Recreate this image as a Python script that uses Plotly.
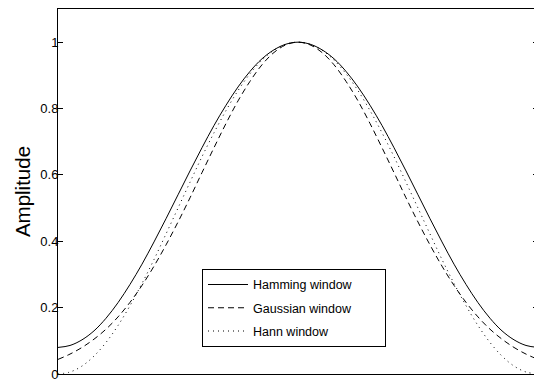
import plotly.graph_objects as go

# sample index (41 samples across the window)
n = list(range(41))

hamming = [0.080, 0.086, 0.103, 0.130, 0.168, 0.215, 0.270, 0.331, 0.398, 0.468,
           0.540, 0.612, 0.682, 0.749, 0.810, 0.865, 0.912, 0.950, 0.977, 0.994,
           1.000,
           0.994, 0.977, 0.950, 0.912, 0.865, 0.810, 0.749, 0.682, 0.612, 0.540,
           0.468, 0.398, 0.331, 0.270, 0.215, 0.168, 0.130, 0.103, 0.086, 0.080]

gaussian = [0.044, 0.060, 0.080, 0.105, 0.135, 0.172, 0.216, 0.267, 0.325, 0.389,
            0.458, 0.531, 0.607, 0.682, 0.755, 0.823, 0.882, 0.932, 0.969, 0.992,
            1.000,
            0.992, 0.969, 0.932, 0.882, 0.823, 0.755, 0.682, 0.607, 0.531, 0.458,
            0.389, 0.325, 0.267, 0.216, 0.172, 0.135, 0.105, 0.080, 0.060, 0.044]

hann = [0.000, 0.006, 0.024, 0.054, 0.095, 0.146, 0.206, 0.273, 0.345, 0.422,
        0.500, 0.578, 0.655, 0.727, 0.794, 0.854, 0.905, 0.946, 0.976, 0.994,
        1.000,
        0.994, 0.976, 0.946, 0.905, 0.854, 0.794, 0.727, 0.655, 0.578, 0.500,
        0.422, 0.345, 0.273, 0.206, 0.146, 0.095, 0.054, 0.024, 0.006, 0.000]

ytick_vals = [0, 0.2, 0.4, 0.6, 0.8, 1]
ytick_text = ["0", "0.2", "0.4", "0.6", "0.8", "1"]

NBSP = "\u00a0"
fig = go.Figure()
fig.add_trace(go.Scatter(x=n, y=hamming, mode="lines", name="Hamming window" + NBSP * 8,
                         legendgroup="a", line=dict(color="black", width=1, shape="spline")))
fig.add_trace(go.Scatter(x=n, y=gaussian, mode="lines", name="Gaussian window",
                         legendgroup="b", line=dict(color="black", width=1, dash="6px,4px", shape="spline")))
fig.add_trace(go.Scatter(x=n, y=hann, mode="lines", name="Hann window",
                         legendgroup="c", line=dict(color="black", width=1, dash="1px,4px", shape="spline")))

# page has an 8px body margin; the figure is sized/offset to compensate
fig.update_layout(
    width=534, height=374,
    margin=dict(l=50, r=4, t=0, b=6),
    paper_bgcolor="white", plot_bgcolor="white",
    font=dict(family="Liberation Sans, Arial, sans-serif", color="black", size=12),
    showlegend=True,
    legend=dict(x=0.30, y=0.288, xanchor="left", yanchor="top",
                bordercolor="black", borderwidth=1, bgcolor="white",
                font=dict(size=12.5), itemwidth=40, tracegroupgap=4),
    xaxis=dict(range=[0, 40], showgrid=False, zeroline=False, showticklabels=False,
               ticks="", showline=True, linecolor="black", linewidth=1, mirror=True),
    yaxis=dict(range=[0, 1.1], showgrid=False, zeroline=False,
               tickvals=ytick_vals, ticktext=ytick_text, ticks="inside", ticklen=5,
               tickcolor="black", showline=True, linecolor="black", linewidth=1,
               mirror="ticks", ticklabelstandoff=-4, ticklabeloverflow="allow",
               tickfont=dict(size=13),
               title=dict(text="Amplitude", font=dict(size=20.5), standoff=4)),
)

fig.write_html("out.html")
